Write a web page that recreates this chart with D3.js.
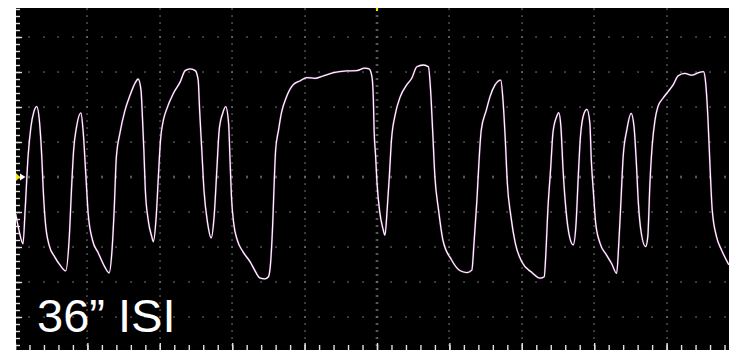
<!DOCTYPE html>
<html>
<head>
<meta charset="utf-8">
<script src="https://cdn.jsdelivr.net/npm/d3@7"></script>
<style>
    body { margin: 0; background: #fff; }
    svg { display: block; }
</style>
</head>
<body>
<div id="chart"></div>
<script>
// trace: time (ms, 100 ms/div) and voltage (mV, 10 mV/div)
var timeMs = [1, 6, 11, 14, 18, 22, 26, 30, 34, 37, 39, 42, 47, 55, 62, 70, 75, 78, 81, 85, 91, 94, 98, 101, 107, 115, 124, 130, 134, 137, 140, 145, 152, 159, 166, 170, 174, 176, 178, 180, 184, 189, 191, 195, 198, 201, 205, 209, 219, 228, 235, 242, 249, 253, 255, 258, 261, 266, 271, 275, 279, 282, 287, 291, 295, 297, 299, 302, 307, 315, 325, 331, 338, 345, 350, 353, 356, 358, 360, 364, 368, 375, 384, 394, 403, 414, 426, 440, 458, 472, 483, 489, 493, 495, 496, 498, 500, 504, 508, 511, 514, 517, 520, 525, 532, 541, 548, 555, 564, 571, 574, 577, 580, 585, 591, 603, 615, 624, 631, 634, 638, 641, 644, 651, 656, 663, 671, 674, 677, 680, 685, 691, 700, 714, 725, 731, 733, 736, 740, 743, 748, 751, 754, 757, 761, 766, 771, 775, 778, 781, 786, 790, 794, 796, 799, 802, 808, 817, 824, 831, 834, 837, 840, 845, 851, 855, 858, 861, 865, 871, 874, 877, 880, 884, 888, 895, 902, 909, 916, 925, 935, 944, 951, 954, 957, 960, 963, 969, 976, 986];
var voltageMv = [-10.6, -15.7, -19.1, -9.4, 5.7, 14.3, 18.6, 20.1, 15.4, 5.7, -3.7, -13.1, -19.4, -22.9, -25.1, -26.8, -17.1, -3.7, 7.7, 14.3, 18.3, 13.4, 0, -10.3, -18, -21.7, -25.7, -27.4, -20.9, -9.4, 5.7, 12.6, 19.1, 23.4, 26.9, 28, 24.9, 17.1, 7.7, -3.7, -12.3, -17.1, -18.5, -11.4, 0, 10.6, 16.3, 19.1, 24, 27.1, 30.4, 30.9, 30.4, 27.7, 19.1, 7.7, -3.7, -13.1, -17.4, -11.4, 2.9, 13.4, 18.3, 20.1, 15.4, 4.9, -5.7, -13.1, -18, -21.4, -24.3, -26.6, -28.8, -29.1, -28.5, -24.6, -13.1, -1.7, 7.7, 13.4, 18.3, 22.9, 26.3, 27.5, 28.4, 28.2, 28.9, 29.8, 30.3, 30.4, 31.1, 30.9, 28.7, 22, 13.4, 6.3, -1.7, -10.3, -14.6, -16.6, -9.4, 0, 10.6, 17.7, 22.9, 26.3, 28.2, 31.5, 32, 31.5, 24.9, 12.6, 0, -9.4, -18, -23.7, -26.8, -27.3, -26.6, -18.9, -6.6, 4.9, 13.4, 19.1, 22.9, 26.3, 27.7, 22, 11.5, -1.7, -11.3, -18.9, -24.2, -27.3, -28.9, -28.5, -22.8, -9.4, 2.9, 12.6, 17.2, 18.4, 14.4, 2, -9.4, -17.1, -19.4, -13.1, 0.1, 11.5, 18.2, 19.3, 15.4, 4.9, -4.6, -13.1, -18.9, -22.3, -24.7, -27.5, -18.9, -6.6, 5.8, 13.4, 18.2, 14.4, 4.9, -7.4, -16, -19.9, -17.1, -1.7, 8.7, 16.3, 20.1, 22.5, 24.4, 26.3, 28.9, 29.6, 29.1, 29.8, 30.1, 26.8, 17.2, 2.9, -9.4, -17.1, -20.9, -25.1];

var xMajor = d3.range(0, 1001, 100);
var xMinor = d3.range(0, 1001, 20);
var yMajor = d3.range(-50, 51, 10);
var yMinor = d3.range(-50, 51, 2);
var label = '36\u201D ISI';

var width = 729, height = 350;
var screen = {left: 16, top: 8, right: 729, bottom: 350};

var x = d3.scaleLinear().domain([0, 1000]).range([15, 739]);
var y = d3.scaleLinear().domain([-50, 50]).range([352, 2]);

var svg = d3.select('#chart')
    .append('svg')
    .attr('width', width)
    .attr('height', height);

svg.append('rect')
    .attr('width', width)
    .attr('height', height)
    .attr('fill', '#fff');

svg.append('defs').append('clipPath')
    .attr('id', 'scr')
    .append('rect')
    .attr('x', screen.left)
    .attr('y', screen.top)
    .attr('width', screen.right - screen.left)
    .attr('height', screen.bottom - screen.top);

var scr = svg.append('g').attr('clip-path', 'url(#scr)');

scr.append('rect')
    .attr('x', screen.left)
    .attr('y', screen.top)
    .attr('width', screen.right - screen.left)
    .attr('height', screen.bottom - screen.top)
    .attr('fill', '#000');

// graticule dots on the major lines
var dots = [];
yMajor.forEach(function (v) {
    xMinor.forEach(function (t) { dots.push([t, v]); });
});
xMajor.forEach(function (t) {
    yMinor.forEach(function (v) { dots.push([t, v]); });
});
scr.append('g')
    .selectAll('rect')
    .data(dots)
    .enter().append('rect')
    .attr('x', function (d) { return Math.round(x(d[0])) - 0.6; })
    .attr('y', function (d) { return Math.round(y(d[1])) - 0.6; })
    .attr('width', 1.3)
    .attr('height', 1.3)
    .attr('fill', '#8c8c8c');

// small ticks on the centre axes
scr.append('g')
    .selectAll('line')
    .data(yMinor)
    .enter().append('line')
    .attr('x1', x(500) - 1.5).attr('x2', x(500) + 1.5)
    .attr('y1', function (d) { return Math.round(y(d)); })
    .attr('y2', function (d) { return Math.round(y(d)); })
    .attr('stroke', '#777').attr('stroke-width', 1);
scr.append('g')
    .selectAll('line')
    .data(xMinor)
    .enter().append('line')
    .attr('y1', y(0) - 1.5).attr('y2', y(0) + 1.5)
    .attr('x1', function (d) { return Math.round(x(d)); })
    .attr('x2', function (d) { return Math.round(x(d)); })
    .attr('stroke', '#777').attr('stroke-width', 1);

// edge ticks
function edgeAxis(axis, tr) {
    var g = scr.append('g')
        .attr('transform', tr)
        .call(axis);
    g.select('.domain').remove();
    g.selectAll('line').attr('stroke', '#e0e0e0').attr('stroke-width', 1.4);
    g.selectAll('text').remove();
}
edgeAxis(d3.axisRight(y).tickValues(yMinor).tickSize(4).tickFormat(''), 'translate(' + screen.left + ',0)');
edgeAxis(d3.axisRight(y).tickValues(yMajor).tickSize(6).tickFormat(''), 'translate(' + screen.left + ',0)');
edgeAxis(d3.axisTop(x).tickValues(xMinor).tickSize(5).tickFormat(''), 'translate(0,' + screen.bottom + ')');
edgeAxis(d3.axisTop(x).tickValues(xMajor).tickSize(7).tickFormat(''), 'translate(0,' + screen.bottom + ')');

// trace
var pts = timeMs.map(function (t, i) { return [t, voltageMv[i]]; });
var line = d3.line()
    .x(function (d) { return x(d[0]); })
    .y(function (d) { return y(d[1]); })
    .curve(d3.curveMonotoneX);

scr.append('path')
    .datum(pts)
    .attr('d', line)
    .attr('fill', 'none')
    .attr('stroke', '#ff3cff')
    .attr('stroke-opacity', 0.3)
    .attr('stroke-width', 2.2);
scr.append('path')
    .datum(pts)
    .attr('d', line)
    .attr('fill', 'none')
    .attr('stroke', '#fbf8fb')
    .attr('stroke-width', 1.3);

// level and trigger markers
scr.append('path')
    .attr('d', 'M' + screen.left + ',' + (y(0) - 4) + 'L' + (screen.left + 4) + ',' + y(0) + 'L' + screen.left + ',' + (y(0) + 4) + 'Z')
    .attr('fill', '#ffe600');
scr.append('path')
    .attr('d', 'M' + (screen.left + 4) + ',' + (y(0) - 3.5) + 'L' + (screen.left + 9.5) + ',' + y(0) + 'L' + (screen.left + 4) + ',' + (y(0) + 3.5) + 'Z')
    .attr('fill', '#fff');
scr.append('rect')
    .attr('x', x(500) - 1)
    .attr('y', screen.top)
    .attr('width', 2)
    .attr('height', 3)
    .attr('fill', '#ffe600');

scr.append('text')
    .attr('x', 37)
    .attr('y', 332)
    .attr('font-family', '"Liberation Sans", Arial, sans-serif')
    .attr('font-size', 47)
    .attr('fill', '#fff')
    .text(label);
</script>
</body>
</html>
